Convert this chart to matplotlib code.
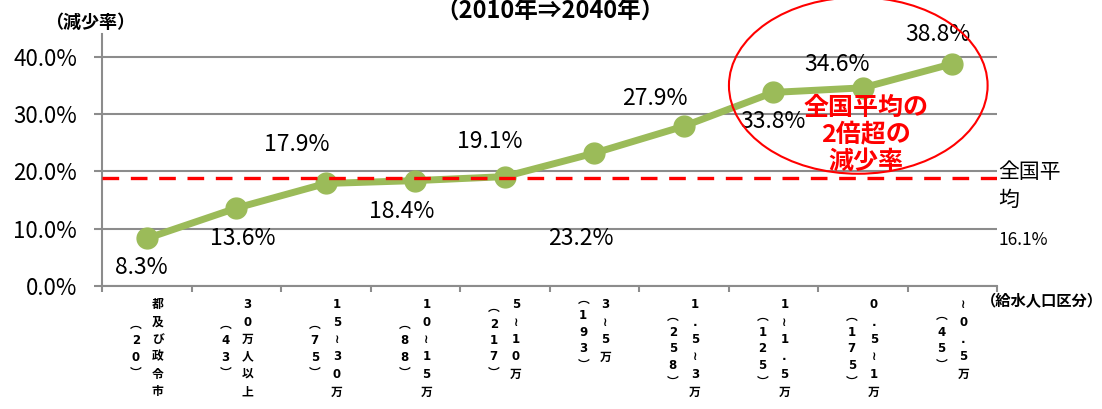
import numpy as np
import matplotlib
matplotlib.use("Agg")
import matplotlib.pyplot as plt
from matplotlib.patches import Ellipse

plt.rcParams['font.family'] = ['Noto Sans CJK JP', 'DejaVu Sans']

# datos
main_labels = ["都及び政令市", "30万人以上", "15～30万", "10～15万", "5～10万",
               "3～5万", "1.5～3万", "1～1.5万", "0.5～1万", "～0.5万"]
counts = [20, 43, 75, 88, 217, 193, 258, 125, 175, 45]
rates = [8.3, 13.6, 17.9, 18.4, 19.1, 23.2, 27.9, 33.8, 34.6, 38.8]
avg_line = 18.9
avg_label = "16.1%"
yticks = [0, 10, 20, 30, 40]

# desplazamiento de las etiquetas (pixeles)
offsets = [(-5, -29), (6, -30), (-29, 39), (-14, -31), (-15, 35),
           (-13, -85), (-29, 28), (0, -29), (-26, 23), (-14, 29)]

green = "#9BBB59"
grid_c = "#8C8C8C"

fig = plt.figure(figsize=(11.02, 4.09), dpi=100)
ax = fig.add_axes([102/1102, 1-286/409, (997-102)/1102, (286-34)/409])

x = np.arange(1, len(rates)+1)
ax.plot(x, rates, color=green, lw=5, marker='o', ms=15, zorder=3)
ax.axhline(avg_line, color='red', lw=2.4, ls=(0, (5, 3.5)), zorder=4)

for xi, r, (dx, dy) in zip(x, rates, offsets):
    ax.annotate(f"{r:.1f}%", (xi, r), xytext=(dx, dy), textcoords='offset pixels',
                ha='center', va='center', fontsize=16.5)

ax.set_xlim(0.5, len(rates)+0.5)
ax.set_ylim(0, 44)
ax.set_yticks(yticks)
ax.set_yticklabels([f"{v:.1f}%" for v in yticks], fontsize=16)
ax.yaxis.grid(True, color=grid_c, lw=1.5)
ax.set_axisbelow(True)
ax.set_xticks(np.arange(0.5, len(rates)+1, 1))
ax.set_xticklabels([])
ax.tick_params(axis='x', length=4, color=grid_c, width=1.5)
ax.tick_params(axis='y', length=6, color=grid_c, width=1.5, pad=12)
for s in ['top', 'right']:
    ax.spines[s].set_visible(False)
for s in ['left', 'bottom']:
    ax.spines[s].set_color(grid_c)
    ax.spines[s].set_linewidth(1.5)

# etiquetas verticales del eje x
pitch = 17
lab_font = ['DejaVu Sans', 'Noto Sans CJK JP']
for xi, lab, n in zip(x, main_labels, counts):
    chars = [("≀" if c == "～" else c) for c in lab]
    ax.annotate("\n".join(chars), (xi, 0), xycoords=('data', 'axes fraction'),
                xytext=(11, -12), textcoords='offset pixels', ha='center', va='top',
                fontsize=8.5, fontweight='bold', family=lab_font, linespacing=1.45,
                annotation_clip=False)
    pc = ["︵"] + list(str(n)) + ["︶"]
    ax.annotate("\n".join(pc), (xi, 0), xycoords=('data', 'axes fraction'),
                xytext=(-11, -(12 + len(chars)*pitch/2)), textcoords='offset pixels',
                ha='center', va='center', fontsize=8.5, fontweight='bold',
                family=lab_font, linespacing=1.35, annotation_clip=False)

# promedio nacional
ax.text(998/1102, 1-186/409, "全国平\n均", transform=fig.transFigure, fontsize=15,
        ha='left', va='center', linespacing=1.4)
ax.text(998/1102, 1-240/409, avg_label, transform=fig.transFigure, fontsize=12.5,
        ha='left', va='center')

# elipse y texto rojo
ell = Ellipse((8.95, 35.0), 2.89, 30.8, fill=False, ec='red', lw=1.5, clip_on=False, zorder=5)
ax.add_patch(ell)
ax.text(9.04, 26.4, "全国平均の\n2倍超の\n減少率", color='red', fontsize=18, fontweight='bold',
        ha='center', va='center', linespacing=1.15, zorder=6)

fig.text(90/1102, 1-22/409, "（減少率）", fontsize=13, fontweight='bold', ha='center', va='center')
fig.text(550/1102, 1-11/409, "（2010年⇒2040年）", fontsize=17, fontweight='bold', ha='center', va='center')
fig.text(1042/1102, 1-301/409, "（給水人口区分）", fontsize=11, fontweight='bold', ha='center', va='center')

fig.savefig("out.png", dpi=100)
